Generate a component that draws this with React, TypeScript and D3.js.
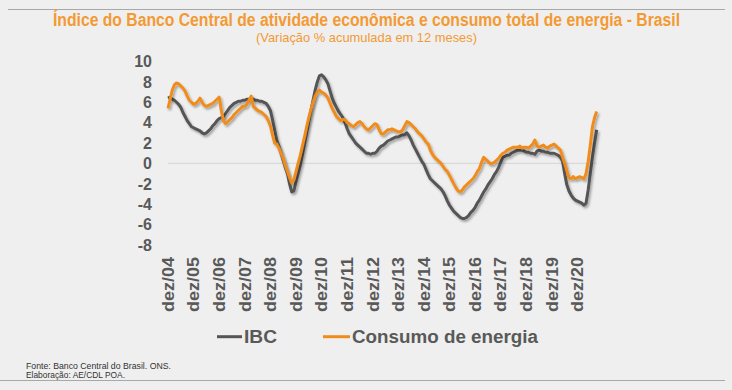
import { useEffect, useRef } from 'react'
import * as d3 from 'd3'

// monthly series, dez/04 .. set/21 (12-month accumulated % change)
const ibc = [
  6.4, 6.5, 6.3, 6.2, 6.0, 5.8, 5.5, 5.0, 4.6, 4.2, 3.9, 3.6,
  3.5, 3.4, 3.3, 3.2, 3.0, 2.9, 3.0, 3.2, 3.4, 3.7, 3.9, 4.2,
  4.4, 4.5, 4.6, 4.9, 5.2, 5.5, 5.7, 5.9, 6.0, 6.1, 6.1, 6.2,
  6.2, 6.3, 6.3, 6.4, 6.3, 6.2, 6.2, 6.1, 6.1, 6.0, 5.9, 5.6,
  5.2, 4.3, 3.3, 2.3, 1.7, 1.0, 0.3, -0.4, -1.0, -2.0, -2.8, -2.7,
  -1.8, -1.0, -0.2, 0.8, 1.9, 3.0, 4.1, 5.2, 6.2, 7.2, 8.0, 8.6,
  8.7, 8.5, 8.2, 7.8, 7.1, 6.4, 5.9, 5.5, 5.1, 4.8, 4.5, 4.0,
  3.4, 2.9, 2.6, 2.3, 2.0, 1.8, 1.6, 1.4, 1.2, 1.0, 1.0, 0.9,
  1.0, 1.0, 1.2, 1.5, 1.7, 1.8, 2.0, 2.2, 2.3, 2.4, 2.5, 2.6,
  2.6, 2.7, 2.8, 2.8, 3.0, 2.7, 2.3, 1.8, 1.4, 1.0, 0.6, 0.2,
  -0.1, -0.6, -1.1, -1.5, -1.7, -1.9, -2.1, -2.3, -2.5, -2.8, -3.2, -3.7,
  -4.1, -4.4, -4.7, -4.9, -5.1, -5.3, -5.4, -5.4, -5.3, -5.1, -4.8, -4.6,
  -4.3, -3.9, -3.6, -3.2, -2.8, -2.5, -2.1, -1.8, -1.5, -1.1, -0.8, -0.4,
  0.1, 0.6, 0.7, 0.8, 0.8, 1.0, 1.1, 1.2, 1.3, 1.3, 1.3, 1.2,
  1.1, 1.1, 1.0, 1.0, 0.9, 1.2, 1.3, 1.2, 1.2, 1.1, 1.1, 1.0,
  1.0, 1.0, 0.9, 0.8, 0.6, 0.2, -1.0, -2.1, -2.7, -3.1, -3.4, -3.6,
  -3.7, -3.8, -3.9, -4.1, -3.9, -2.6, -1.0, 0.6, 2.0, 3.3,
]

const energia = [
  5.4, 6.3, 7.2, 7.7, 7.9, 7.8, 7.6, 7.4, 7.1, 6.6, 6.2, 6.0,
  5.8, 5.9, 6.1, 6.4, 6.0, 5.7, 5.6, 5.7, 5.8, 5.9, 6.1, 6.3,
  6.5, 5.2, 4.2, 3.9, 4.1, 4.3, 4.5, 4.8, 5.0, 5.2, 5.4, 5.6,
  5.6, 5.8, 6.2, 6.6, 5.6, 5.4, 5.2, 5.1, 5.0, 4.8, 4.6, 4.2,
  3.7, 2.8, 2.0, 1.9, 1.5, 1.0, 0.5, -0.2, -0.8, -1.4, -1.9, -1.6,
  -0.8, 0.0, 0.8, 1.7, 2.6, 3.6, 4.5, 5.3, 6.0, 6.6, 7.0, 7.2,
  7.0, 6.9, 6.7, 6.4, 5.9, 5.4, 5.0, 4.6, 4.4, 4.2, 4.3, 4.3,
  4.0, 3.9, 3.7, 3.6, 3.8, 4.0, 4.1, 3.9, 3.6, 3.4, 3.3, 3.5,
  3.7, 3.9, 3.8, 3.3, 2.9, 2.9, 3.1, 3.3, 3.3, 3.4, 3.3, 3.2,
  3.1, 3.1, 3.3, 3.7, 4.1, 4.0, 3.8, 3.6, 3.4, 3.1, 2.9, 2.7,
  2.4, 2.1, 1.9, 1.3, 0.9, 0.6, 0.4, 0.2, 0.0, -0.3, -0.6, -0.8,
  -1.2, -1.6, -2.0, -2.4, -2.7, -2.8, -2.6, -2.3, -2.1, -1.9, -1.7, -1.5,
  -1.2, -0.8, -0.5, 0.1, 0.6, 0.4, 0.2, 0.0, 0.0, 0.1, 0.3, 0.5,
  0.8, 1.0, 1.1, 1.3, 1.4, 1.5, 1.6, 1.6, 1.6, 1.7, 1.5, 1.6,
  1.6, 1.5, 1.7, 1.9, 2.3, 1.7, 1.6, 1.7, 1.8, 1.6, 1.5, 1.7,
  1.8, 1.9, 1.7, 1.5, 1.3, 0.6, 0.0, -0.7, -1.4, -1.5, -1.3, -1.5,
  -1.4, -1.3, -1.4, -1.5, -1.0, 0.2, 1.8, 3.6, 4.5, 5.1,
]

const xLabels = ['dez/04', 'dez/05', 'dez/06', 'dez/07', 'dez/08', 'dez/09', 'dez/10', 'dez/11', 'dez/12',
  'dez/13', 'dez/14', 'dez/15', 'dez/16', 'dez/17', 'dez/18', 'dez/19', 'dez/20']
const yTicks = [10, 8, 6, 4, 2, 0, -2, -4, -6, -8]

const series = [
  { name: 'IBC', values: ibc, color: '#555555' },
  { name: 'Consumo de energia', values: energia, color: '#F08C1C' },
]

export default function App() {
  const svgRef = useRef(null)

  useEffect(() => {
    document.body.style.margin = '0'
    document.body.style.background = '#efefef'
    const width = 732
    const height = 390

    const svg = d3.select(svgRef.current)
    svg.selectAll('*').remove()
    svg.attr('width', width).attr('height', height)

    svg.append('rect').attr('width', width).attr('height', height).attr('fill', '#efefef')

    const defs = svg.append('defs')
    const f = defs.append('filter').attr('id', 'shadow').attr('x', '-5%').attr('y', '-5%')
      .attr('width', '110%').attr('height', '120%')
    f.append('feDropShadow').attr('dx', 1.5).attr('dy', 2).attr('stdDeviation', 1.2)
      .attr('flood-color', '#000').attr('flood-opacity', 0.33)

    // rules
    svg.append('line').attr('x1', 8).attr('x2', 725).attr('y1', 9.5).attr('y2', 9.5)
      .attr('stroke', '#a8a8a8').attr('stroke-width', 1)
    svg.append('line').attr('x1', 0).attr('x2', 725).attr('y1', 380.5).attr('y2', 380.5)
      .attr('stroke', '#a8a8a8').attr('stroke-width', 1)

    // titles
    svg.append('text').attr('x', 366.5).attr('y', 26).attr('text-anchor', 'middle')
      .attr('textLength', 627).attr('lengthAdjust', 'spacingAndGlyphs')
      .style('font-family', '"Liberation Sans Narrow", "Liberation Sans", sans-serif')
      .style('font-size', '18px').style('font-weight', 'bold').style('fill', '#F39A33')
      .text('Índice do Banco Central de atividade econômica e consumo total de energia - Brasil')
    svg.append('text').attr('x', 366.5).attr('y', 42).attr('text-anchor', 'middle')
      .attr('textLength', 221).attr('lengthAdjust', 'spacingAndGlyphs')
      .style('font-family', '"Liberation Sans Narrow", "Liberation Sans", sans-serif')
      .style('font-size', '13.5px').style('fill', '#F39A33')
      .text('(Variação % acumulada em 12 meses)')

    const x = d3.scaleLinear().domain([0, ibc.length - 1]).range([168, 596.7])
    const y = d3.scaleLinear().domain([-8, 10]).range([245, 61.5])

    // y labels
    svg.append('g').selectAll('text').data(yTicks).enter().append('text')
      .attr('x', 152).attr('y', d => y(d)).attr('dy', '0.36em').attr('text-anchor', 'end')
      .style('font-family', '"Liberation Sans", Arial, sans-serif')
      .style('font-size', '16px').style('font-weight', 'bold').style('fill', '#595959')
      .text(d => d)

    // zero line
    svg.append('line').attr('x1', x(0)).attr('x2', x(ibc.length - 1))
      .attr('y1', y(0)).attr('y2', y(0)).attr('stroke', '#d9d9d9').attr('stroke-width', 1.2)

    // x labels
    svg.append('g').selectAll('text').data(xLabels).enter().append('text')
      .attr('transform', (d, i) => `translate(${x(i * 12)}, 257) rotate(-90)`)
      .attr('dy', '0.36em').attr('text-anchor', 'end')
      .attr('textLength', 55).attr('lengthAdjust', 'spacingAndGlyphs')
      .style('font-family', '"Liberation Sans", Arial, sans-serif')
      .style('font-size', '16px').style('font-weight', 'bold').style('fill', '#595959')
      .text(d => d)

    const line = d3.line<number>().x((d, i) => x(i)).y(d => y(d)).curve(d3.curveLinear)

    series.forEach(s => {
      svg.append('path').datum(s.values).attr('d', line).attr('fill', 'none')
        .attr('stroke', s.color).attr('stroke-width', 3).attr('stroke-linejoin', 'round')
        .attr('filter', 'url(#shadow)')
    })

    // legend
    const legend = [
      { x1: 217, x2: 242, tx: 244, w: 33 },
      { x1: 323, x2: 350, tx: 352, w: 186 },
    ]
    legend.forEach((l, i) => {
      svg.append('line').attr('x1', l.x1).attr('x2', l.x2).attr('y1', 336.7).attr('y2', 336.7)
        .attr('stroke', series[i].color).attr('stroke-width', 3)
      svg.append('text').attr('x', l.tx).attr('y', 342.5)
        .attr('textLength', l.w).attr('lengthAdjust', 'spacingAndGlyphs')
        .style('font-family', '"Liberation Sans", Arial, sans-serif')
        .style('font-size', '17.5px').style('font-weight', 'bold').style('fill', '#595959')
        .text(series[i].name)
    })

    // footer
    const foot = ['Fonte: Banco Central do Brasil. ONS.', 'Elaboração: AE/CDL POA.']
    const fw = [145, 99]
    foot.forEach((t, i) => {
      svg.append('text').attr('x', 26).attr('y', 368.8 + i * 9.5)
        .attr('textLength', fw[i]).attr('lengthAdjust', 'spacingAndGlyphs')
        .style('font-family', '"Liberation Sans Narrow", "Liberation Sans", sans-serif')
        .style('font-size', '9px').style('fill', '#333')
        .text(t)
    })
  }, [])

  return <svg ref={svgRef} style={{ display: 'block' }}></svg>
}
